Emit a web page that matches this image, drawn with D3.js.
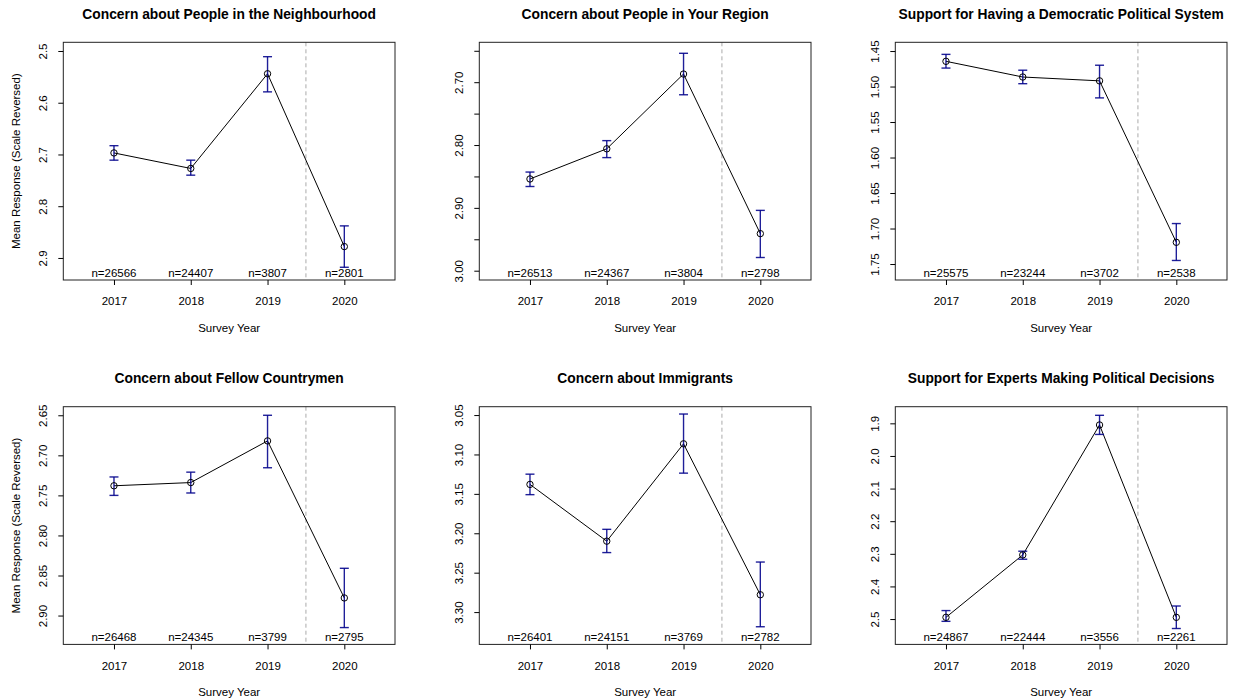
<!DOCTYPE html>
<html>
<head>
<meta charset="utf-8">
<script src="https://cdn.jsdelivr.net/npm/d3@7/dist/d3.min.js"></script>
<style>
body { margin: 0; background: #fff; }
svg text { font-family: "Liberation Sans", Arial, Helvetica, sans-serif; fill: #000; }
</style>
</head>
<body>
<div id="chart"></div>
<script>
var years = [2017, 2018, 2019, 2020];
var xLimits = [2016.34, 2020.66];
var splitYear = 2019.5;

var titles = [
    "Concern about People in the Neighbourhood",
    "Concern about People in Your Region",
    "Support for Having a Democratic Political System",
    "Concern about Fellow Countrymen",
    "Concern about Immigrants",
    "Support for Experts Making Political Decisions"
];

// means, 95% interval ends and sample sizes, one set per panel
var neighbourhoodMean = [2.697, 2.727, 2.544, 2.878];
var neighbourhoodLow  = [2.683, 2.711, 2.511, 2.838];
var neighbourhoodHigh = [2.711, 2.740, 2.579, 2.918];
var neighbourhoodN    = [26566, 24407, 3807, 2801];

var regionMean = [2.854, 2.806, 2.687, 2.941];
var regionLow  = [2.843, 2.793, 2.654, 2.904];
var regionHigh = [2.866, 2.820, 2.720, 2.979];
var regionN    = [26513, 24367, 3804, 2798];

var democracyMean = [1.4645, 1.4866, 1.492, 1.7194];
var democracyLow  = [1.4547, 1.477, 1.470, 1.693];
var democracyHigh = [1.474, 1.496, 1.516, 1.745];
var democracyN    = [25575, 23244, 3702, 2538];

var countrymenMean = [2.738, 2.734, 2.682, 2.878];
var countrymenLow  = [2.727, 2.721, 2.650, 2.841];
var countrymenHigh = [2.750, 2.747, 2.7155, 2.915];
var countrymenN    = [26468, 24345, 3799, 2795];

var immigrantsMean = [3.138, 3.210, 3.0865, 3.278];
var immigrantsLow  = [3.125, 3.195, 3.0487, 3.2365];
var immigrantsHigh = [3.151, 3.2245, 3.1237, 3.3186];
var immigrantsN    = [26401, 24151, 3769, 2782];

var expertsMean = [2.4947, 2.3034, 1.905, 2.4947];
var expertsLow  = [2.474, 2.292, 1.8754, 2.46];
var expertsHigh = [2.507, 2.3166, 1.934, 2.529];
var expertsN    = [24867, 22444, 3556, 2261];

// y ranges (top value first: scale reversed) and tick marks
var yDomains = [
    [2.4832, 2.9426], [2.6365, 3.0148], [1.4377, 1.7725],
    [2.6393, 2.936],  [3.0394, 3.341],  [1.849, 2.5777]
];
var yTicks = [
    [2.5, 2.6, 2.7, 2.8, 2.9],
    [2.65, 2.70, 2.75, 2.80, 2.85, 2.90, 2.95, 3.00],
    [1.45, 1.50, 1.55, 1.60, 1.65, 1.70, 1.75],
    [2.65, 2.70, 2.75, 2.80, 2.85, 2.90],
    [3.05, 3.10, 3.15, 3.20, 3.25, 3.30],
    [1.9, 2.0, 2.1, 2.2, 2.3, 2.4, 2.5]
];
var yTickLabels = [
    ["2.5", "2.6", "2.7", "2.8", "2.9"],
    ["", "2.70", "", "2.80", "", "2.90", "", "3.00"],
    ["1.45", "1.50", "1.55", "1.60", "1.65", "1.70", "1.75"],
    ["2.65", "2.70", "2.75", "2.80", "2.85", "2.90"],
    ["3.05", "3.10", "3.15", "3.20", "3.25", "3.30"],
    ["1.9", "2.0", "2.1", "2.2", "2.3", "2.4", "2.5"]
];

var panels = [
    [neighbourhoodMean, neighbourhoodLow, neighbourhoodHigh, neighbourhoodN],
    [regionMean, regionLow, regionHigh, regionN],
    [democracyMean, democracyLow, democracyHigh, democracyN],
    [countrymenMean, countrymenLow, countrymenHigh, countrymenN],
    [immigrantsMean, immigrantsLow, immigrantsHigh, immigrantsN],
    [expertsMean, expertsLow, expertsHigh, expertsN]
];

var width = 1234, height = 700;
var colLeft = [63.3, 479.3, 895.3];
var rowTop = [42.3, 406.7];
var boxW = 331.7, boxH = 237.7;
var barColor = "rgba(0,0,139,0.88)";
var fs = "11.5px";

var svg = d3.select("#chart").append("svg")
    .attr("width", width)
    .attr("height", height);

panels.forEach(function(p, i){
    var col = i % 3, row = Math.floor(i / 3);
    var rows = years.map(function(yr, j){
        return { year: yr, mean: p[0][j], lo: p[1][j], hi: p[2][j], n: p[3][j] };
    });

    var g = svg.append("g")
        .attr("transform", "translate(" + colLeft[col] + "," + rowTop[row] + ")");

    var x = d3.scaleLinear().domain(xLimits).range([0, boxW]);
    var y = d3.scaleLinear().domain(yDomains[i]).range([0, boxH]);

    // split between 2019 and 2020
    g.append("line")
        .attr("x1", x(splitYear)).attr("x2", x(splitYear))
        .attr("y1", 0).attr("y2", boxH)
        .attr("stroke", "#aaa")
        .attr("stroke-dasharray", "4,3");

    // line through the means
    var line = d3.line()
        .x(function(d){ return x(d.year); })
        .y(function(d){ return y(d.mean); });
    g.append("path")
        .datum(rows)
        .attr("d", line)
        .attr("fill", "none")
        .attr("stroke", "#000")
        .attr("stroke-width", 1);

    // error bars
    var bars = g.selectAll(".bar").data(rows).enter().append("g").attr("class", "bar");
    bars.append("line")
        .attr("x1", function(d){ return x(d.year); })
        .attr("x2", function(d){ return x(d.year); })
        .attr("y1", function(d){ return y(d.lo); })
        .attr("y2", function(d){ return y(d.hi); })
        .attr("stroke", barColor).attr("stroke-width", 1.4);
    ["lo", "hi"].forEach(function(k){
        bars.append("line")
            .attr("x1", function(d){ return x(d.year) - 4.5; })
            .attr("x2", function(d){ return x(d.year) + 4.5; })
            .attr("y1", function(d){ return y(d[k]); })
            .attr("y2", function(d){ return y(d[k]); })
            .attr("stroke", barColor).attr("stroke-width", 1.4);
    });

    g.selectAll(".pt").data(rows).enter().append("circle")
        .attr("class", "pt")
        .attr("cx", function(d){ return x(d.year); })
        .attr("cy", function(d){ return y(d.mean); })
        .attr("r", 3.2)
        .attr("fill", "none")
        .attr("stroke", "#000")
        .attr("stroke-width", 1);

    // sample sizes along the bottom
    g.selectAll(".n").data(rows).enter().append("text")
        .attr("class", "n")
        .attr("x", function(d){ return x(d.year); })
        .attr("y", boxH - 3)
        .attr("text-anchor", "middle")
        .style("font-size", fs)
        .text(function(d){ return "n=" + d.n; });

    // box
    g.append("rect")
        .attr("width", boxW).attr("height", boxH)
        .attr("fill", "none")
        .attr("stroke", "#222")
        .attr("stroke-width", 1);

    // axes
    var xAxis = g.append("g")
        .attr("transform", "translate(0," + boxH + ")")
        .call(d3.axisBottom(x).tickValues(years).tickFormat(d3.format("d")).tickSize(5).tickPadding(12));
    xAxis.select(".domain").remove();
    xAxis.selectAll("text").style("font-size", fs);

    var yAxis = g.append("g")
        .call(d3.axisLeft(y).tickValues(yTicks[i])
            .tickFormat(function(d, j){ return yTickLabels[i][j]; })
            .tickSize(5));
    yAxis.select(".domain").remove();
    yAxis.selectAll("text")
        .attr("transform", "rotate(-90)")
        .attr("x", 0).attr("y", -16).attr("dy", 0)
        .attr("text-anchor", "middle")
        .style("font-size", fs);

    // titles
    g.append("text")
        .attr("x", boxW / 2).attr("y", -23.5)
        .attr("text-anchor", "middle")
        .style("font-size", "13.8px")
        .style("font-weight", "bold")
        .text(titles[i]);

    g.append("text")
        .attr("x", boxW / 2).attr("y", boxH + 52)
        .attr("text-anchor", "middle")
        .style("font-size", fs)
        .text("Survey Year");

    if (col === 0) {
        g.append("text")
            .attr("transform", "translate(-43," + (boxH / 2) + ") rotate(-90)")
            .attr("text-anchor", "middle")
            .style("font-size", fs)
            .text("Mean Response (Scale Reversed)");
    }
});
</script>
</body>
</html>
